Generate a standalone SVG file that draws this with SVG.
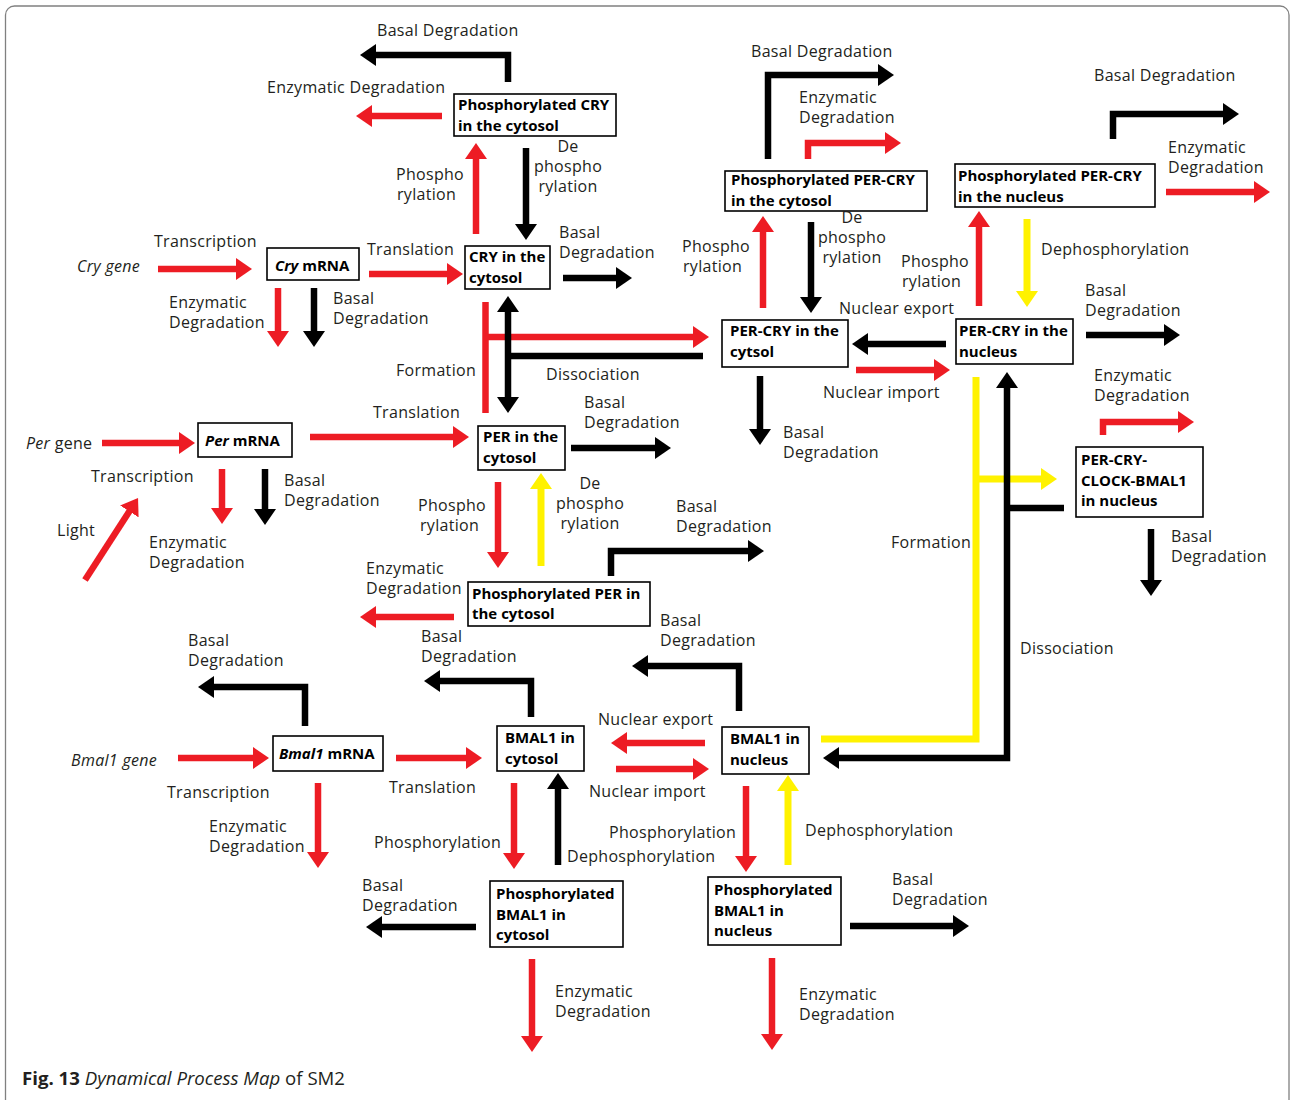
<svg xmlns="http://www.w3.org/2000/svg" width="1291" height="1100" viewBox="0 0 1291 1100">
<style>
.t{font-family:"Open Sans","DejaVu Sans",sans-serif;font-size:16px;letter-spacing:0.3px;fill:#231f20}
.b{font-family:"Open Sans","DejaVu Sans",sans-serif;font-size:15px;font-weight:bold;fill:#000}
.i{font-style:italic}
.box{fill:#fff;stroke:#000;stroke-width:1.6}
.k{fill:none;stroke:#000;stroke-width:6.5}
.r{fill:none;stroke:#ED1C24;stroke-width:6.5}
.y{fill:none;stroke:#FFF200;stroke-width:7}
.k.a{marker-end:url(#hk)}
.k.aa{marker-start:url(#hks);marker-end:url(#hk)}
.r.a{marker-end:url(#hr)}
.y.a{marker-end:url(#hy)}
.cap{font-family:"Open Sans","DejaVu Sans",sans-serif;font-size:18px;fill:#231f20}
</style>
<defs>
<marker id="hk" markerUnits="userSpaceOnUse" markerWidth="16" markerHeight="22" viewBox="0 0 16 22" refX="1" refY="11" orient="auto"><path d="M0,0L16,11L0,22z" fill="#000"/></marker>
<marker id="hks" markerUnits="userSpaceOnUse" markerWidth="16" markerHeight="22" viewBox="0 0 16 22" refX="1" refY="11" orient="auto-start-reverse"><path d="M0,0L16,11L0,22z" fill="#000"/></marker>
<marker id="hr" markerUnits="userSpaceOnUse" markerWidth="16" markerHeight="22" viewBox="0 0 16 22" refX="1" refY="11" orient="auto"><path d="M0,0L16,11L0,22z" fill="#ED1C24"/></marker>
<marker id="hy" markerUnits="userSpaceOnUse" markerWidth="16" markerHeight="22" viewBox="0 0 16 22" refX="1" refY="11" orient="auto"><path d="M0,0L16,11L0,22z" fill="#FFF200"/></marker>
</defs>
<rect x="5.5" y="6" width="1283.5" height="1120" rx="9" fill="#fff" stroke="#808080" stroke-width="1.3"/>

<g id="connectors">
<path class="k a" d="M508,82V55H375"/>
<path class="r a" d="M442,116H371"/>
<path class="r a" d="M476,234V158"/>
<path class="k a" d="M526,148V225"/>
<path class="r a" d="M158,269H237"/>
<path class="r a" d="M369,274H448"/>
<path class="k a" d="M563,278H617"/>
<path class="r a" d="M278,288V332"/>
<path class="k a" d="M314,288V332"/>
<path class="r" d="M485.5,302V413"/>
<path class="r a" d="M485.5,337H694"/>
<path class="k aa" d="M508,311V398"/>
<path class="k" d="M508,356H703"/>
<path class="r a" d="M102,443H180"/>
<path class="r a" d="M310,437H454"/>
<path class="k a" d="M571,448H656"/>
<path class="r a" d="M222,469V509"/>
<path class="k a" d="M265,469V510"/>
<path class="r a" d="M85,580L129.9,510.6"/>
<path class="r a" d="M498,482V553"/>
<path class="y a" d="M541,566V488"/>
<path class="k a" d="M611,576V551H749"/>
<path class="r a" d="M454,617H375"/>
<path class="k a" d="M768,159V75H879"/>
<path class="r a" d="M808,159V143H886"/>
<path class="k a" d="M1113,139V114H1224"/>
<path class="r a" d="M1166,192H1255"/>
<path class="r a" d="M763,308V231"/>
<path class="k a" d="M811,222V298"/>
<path class="r a" d="M979,306V226"/>
<path class="y a" d="M1027,219V292"/>
<path class="k a" d="M946,344H867"/>
<path class="r a" d="M856,370H935"/>
<path class="k a" d="M1086,335H1165"/>
<path class="k a" d="M760,376V430"/>
<path class="y" d="M976,377V739H821"/>
<path class="y a" d="M976,479H1042"/>
<path class="k aa" d="M1007,387V758H838"/>
<path class="k" d="M1064,508H1007"/>
<path class="k a" d="M739,711V666H647"/>
<path class="r a" d="M705,743H626"/>
<path class="r a" d="M616,769H694"/>
<path class="r a" d="M746,786V857"/>
<path class="y a" d="M788,865V790"/>
<path class="k a" d="M850,926H954"/>
<path class="r a" d="M772,958V1035"/>
<path class="k a" d="M305,726V687H213"/>
<path class="k a" d="M531,717V681H439"/>
<path class="r a" d="M178,758H254"/>
<path class="r a" d="M396,758H467"/>
<path class="r a" d="M318,783V853"/>
<path class="r a" d="M514,783V854"/>
<path class="k a" d="M558,865V788"/>
<path class="k a" d="M476,927H381"/>
<path class="r a" d="M532,959V1037"/>
<path class="r a" d="M1103,435V422H1179"/>
<path class="k a" d="M1151,529V581"/>
</g>

<g id="n-phos-cry-cyt"><rect class="box" x="454" y="94" width="162" height="42"/><text class="b" x="458" y="110">Phosphorylated CRY</text><text class="b" x="458" y="131">in the cytosol</text></g>
<g id="n-cry-mrna"><rect class="box" x="267" y="248" width="92" height="32"/><text class="b" x="275" y="271"><tspan class="i">Cry</tspan> mRNA</text></g>
<g id="n-cry-cyt"><rect class="box" x="465" y="246" width="85" height="43"/><text class="b" x="469" y="262">CRY in the</text><text class="b" x="469" y="283">cytosol</text></g>
<g id="n-percry-cyt"><rect class="box" x="722" y="320" width="126" height="47"/><text class="b" x="730" y="336">PER-CRY in the</text><text class="b" x="730" y="357">cytsol</text></g>
<g id="n-phos-percry-cyt"><rect class="box" x="725" y="171" width="202" height="40"/><text class="b" x="731" y="185">Phosphorylated PER-CRY</text><text class="b" x="731" y="206">in the cytosol</text></g>
<g id="n-phos-percry-nuc"><rect class="box" x="955" y="164" width="200" height="43"/><text class="b" x="958" y="181">Phosphorylated PER-CRY</text><text class="b" x="958" y="202">in the nucleus</text></g>
<g id="n-percry-nuc"><rect class="box" x="956" y="319" width="117" height="45"/><text class="b" x="959" y="336">PER-CRY in the</text><text class="b" x="959" y="357">nucleus</text></g>
<g id="n-percry-clock-bmal1"><rect class="box" x="1076" y="447" width="127" height="70"/><text class="b" x="1081" y="465">PER-CRY-</text><text class="b" x="1081" y="486">CLOCK-BMAL1</text><text class="b" x="1081" y="506">in nucleus</text></g>
<g id="n-per-mrna"><rect class="box" x="198" y="423" width="94" height="34"/><text class="b" x="205" y="446"><tspan class="i">Per</tspan> mRNA</text></g>
<g id="n-per-cyt"><rect class="box" x="478" y="426" width="87" height="44"/><text class="b" x="483" y="442">PER in the</text><text class="b" x="483" y="463">cytosol</text></g>
<g id="n-phos-per-cyt"><rect class="box" x="468" y="582" width="182" height="44"/><text class="b" x="472" y="599">Phosphorylated PER in</text><text class="b" x="472" y="619">the cytosol</text></g>
<g id="n-bmal1-mrna"><rect class="box" x="273" y="736" width="110" height="35"/><text class="b" x="279" y="759"><tspan class="i">Bmal1</tspan> mRNA</text></g>
<g id="n-bmal1-cyt"><rect class="box" x="497" y="726" width="87" height="45"/><text class="b" x="505" y="743">BMAL1 in</text><text class="b" x="505" y="764">cytosol</text></g>
<g id="n-phos-bmal1-cyt"><rect class="box" x="490" y="881" width="133" height="66"/><text class="b" x="496" y="899">Phosphorylated</text><text class="b" x="496" y="920">BMAL1 in</text><text class="b" x="496" y="940">cytosol</text></g>
<g id="n-bmal1-nuc"><rect class="box" x="722" y="727" width="87" height="47"/><text class="b" x="730" y="744">BMAL1 in</text><text class="b" x="730" y="765">nucleus</text></g>
<g id="n-phos-bmal1-nuc"><rect class="box" x="708" y="877" width="133" height="68"/><text class="b" x="714" y="895">Phosphorylated</text><text class="b" x="714" y="916">BMAL1 in</text><text class="b" x="714" y="936">nucleus</text></g>

<g id="labels">
<text class="t" x="377" y="36">Basal Degradation</text>
<text class="t" x="267" y="93">Enzymatic Degradation</text>
<text class="t" x="396" y="180">Phospho</text><text class="t" x="397" y="200">rylation</text>
<text class="t" text-anchor="middle" x="568" y="152">De</text><text class="t" text-anchor="middle" x="568" y="172">phospho</text><text class="t" text-anchor="middle" x="568" y="192">rylation</text>
<text class="t i" x="77" y="272">Cry gene</text>
<text class="t" x="154" y="247">Transcription</text>
<text class="t" x="367" y="255">Translation</text>
<text class="t" x="559" y="238">Basal</text><text class="t" x="559" y="258">Degradation</text>
<text class="t" x="169" y="308">Enzymatic</text><text class="t" x="169" y="328">Degradation</text>
<text class="t" x="333" y="304">Basal</text><text class="t" x="333" y="324">Degradation</text>
<text class="t" x="396" y="376">Formation</text>
<text class="t" x="546" y="380">Dissociation</text>
<text class="t" x="751" y="57">Basal Degradation</text>
<text class="t" x="799" y="103">Enzymatic</text><text class="t" x="799" y="123">Degradation</text>
<text class="t" x="1094" y="81">Basal Degradation</text>
<text class="t" x="1168" y="153">Enzymatic</text><text class="t" x="1168" y="173">Degradation</text>
<text class="t" x="682" y="252">Phospho</text><text class="t" x="683" y="272">rylation</text>
<text class="t" text-anchor="middle" x="852" y="223">De</text><text class="t" text-anchor="middle" x="852" y="243">phospho</text><text class="t" text-anchor="middle" x="852" y="263">rylation</text>
<text class="t" x="901" y="267">Phospho</text><text class="t" x="902" y="287">rylation</text>
<text class="t" x="1041" y="255">Dephosphorylation</text>
<text class="t" x="839" y="314">Nuclear export</text>
<text class="t" x="1085" y="296">Basal</text><text class="t" x="1085" y="316">Degradation</text>
<text class="t" x="823" y="398">Nuclear import</text>
<text class="t" x="783" y="438">Basal</text><text class="t" x="783" y="458">Degradation</text>
<text class="t" x="1094" y="381">Enzymatic</text><text class="t" x="1094" y="401">Degradation</text>
<text class="t" x="1171" y="542">Basal</text><text class="t" x="1171" y="562">Degradation</text>
<text class="t" x="891" y="548">Formation</text>
<text class="t" x="1020" y="654">Dissociation</text>
<text class="t" x="26" y="449"><tspan class="i">Per</tspan> gene</text>
<text class="t" x="373" y="418">Translation</text>
<text class="t" x="584" y="408">Basal</text><text class="t" x="584" y="428">Degradation</text>
<text class="t" x="91" y="482">Transcription</text>
<text class="t" x="284" y="486">Basal</text><text class="t" x="284" y="506">Degradation</text>
<text class="t" x="57" y="536">Light</text>
<text class="t" x="149" y="548">Enzymatic</text><text class="t" x="149" y="568">Degradation</text>
<text class="t" x="418" y="511">Phospho</text><text class="t" x="420" y="531">rylation</text>
<text class="t" text-anchor="middle" x="590" y="489">De</text><text class="t" text-anchor="middle" x="590" y="509">phospho</text><text class="t" text-anchor="middle" x="590" y="529">rylation</text>
<text class="t" x="676" y="512">Basal</text><text class="t" x="676" y="532">Degradation</text>
<text class="t" x="366" y="574">Enzymatic</text><text class="t" x="366" y="594">Degradation</text>
<text class="t" x="188" y="646">Basal</text><text class="t" x="188" y="666">Degradation</text>
<text class="t" x="421" y="642">Basal</text><text class="t" x="421" y="662">Degradation</text>
<text class="t" x="660" y="626">Basal</text><text class="t" x="660" y="646">Degradation</text>
<text class="t" x="598" y="725">Nuclear export</text>
<text class="t i" x="71" y="766">Bmal1 gene</text>
<text class="t" x="167" y="798">Transcription</text>
<text class="t" x="389" y="793">Translation</text>
<text class="t" x="589" y="797">Nuclear import</text>
<text class="t" x="209" y="832">Enzymatic</text><text class="t" x="209" y="852">Degradation</text>
<text class="t" x="374" y="848">Phosphorylation</text>
<text class="t" x="609" y="838">Phosphorylation</text>
<text class="t" x="805" y="836">Dephosphorylation</text>
<text class="t" x="567" y="862">Dephosphorylation</text>
<text class="t" x="362" y="891">Basal</text><text class="t" x="362" y="911">Degradation</text>
<text class="t" x="892" y="885">Basal</text><text class="t" x="892" y="905">Degradation</text>
<text class="t" x="555" y="997">Enzymatic</text><text class="t" x="555" y="1017">Degradation</text>
<text class="t" x="799" y="1000">Enzymatic</text><text class="t" x="799" y="1020">Degradation</text>
</g>

<text id="caption" class="cap" x="22" y="1085" textLength="323" lengthAdjust="spacingAndGlyphs"><tspan font-weight="bold">Fig. 13</tspan> <tspan font-style="italic">Dynamical Process Map</tspan> of SM2</text>
</svg>
